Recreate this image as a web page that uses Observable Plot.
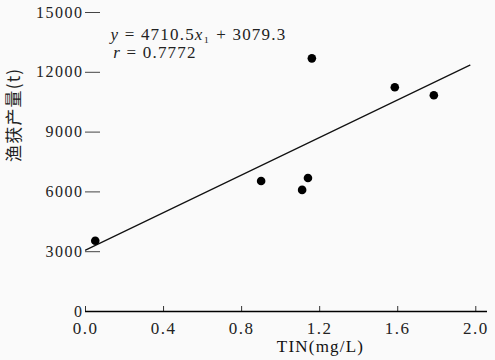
<!DOCTYPE html>
<html>
<head>
<meta charset="utf-8">
<script src="https://cdn.jsdelivr.net/npm/d3@7"></script>
<script src="https://cdn.jsdelivr.net/npm/@observablehq/plot@0.6"></script>
<style>
  html, body { margin: 0; padding: 0; background: #fafafa; }
  #chart svg { background: #fafafa; }
  g[aria-label="y-axis tick label"] text { letter-spacing: 1.5px; }
  g[aria-label="x-axis tick label"] text { letter-spacing: 1.5px; }
  g[aria-label="text"] text { letter-spacing: 1.2px; }
</style>
</head>
<body>
<div id="chart"></div>
<script>
// Data
const tinValues = [0.05, 0.90, 1.11, 1.14, 1.16, 1.585, 1.785];
const yieldValues = [3550, 6550, 6100, 6700, 12700, 11250, 10850];

// Fitted line end points (y = 4710.5x + 3079.3)
const fitX = [0, 1.97];
const fitY = [3079.3, 12359];

const xTicks = [0, 0.4, 0.8, 1.2, 1.6, 2.0];
const yTicks = [0, 3000, 6000, 9000, 12000, 15000];

const equationLines = ["y = 4710.5x\u2081 + 3079.3", "r = 0.7772"];
const equationX = [0.128, 0.142];
const equationY = [13900, 13000];

const xLabel = "TIN(mg/L)";
const yLabel = "渔获产量(t)";

const points = tinValues.map((x, i) => ({x, y: yieldValues[i]}));
const fitLine = fitX.map((x, i) => ({x, y: fitY[i]}));
const equations = equationLines.map((t, i) => ({t, x: equationX[i], y: equationY[i]}));

const serif = "'Liberation Serif', 'Times New Roman', serif";

const chart = Plot.plot({
  width: 495,
  height: 360,
  marginLeft: 85,
  marginRight: 8,
  marginTop: 12,
  marginBottom: 49,
  style: {background: "#fafafa", fontFamily: serif, color: "#222"},
  x: {domain: [0, 2.06], ticks: xTicks, tickFormat: d3.format(".1f")},
  y: {domain: [0, 15000], ticks: yTicks},
  marks: [
    Plot.axisY({ticks: yTicks, tickSize: -15, tickPadding: 17, fontSize: 16, label: null, stroke: "#444", tickFormat: d => String(d)}),
    Plot.axisX({ticks: xTicks, tickSize: 0, tickPadding: 10, fontSize: 17, label: null, tickFormat: d3.format(".1f")}),
    Plot.axisX({ticks: xTicks, tickSize: 5, dy: -5, label: null, stroke: "#333", tickFormat: () => ""}),
    Plot.ruleY([0], {stroke: "#000", strokeWidth: 1.5}),
    Plot.line(fitLine, {x: "x", y: "y", stroke: "#111", strokeWidth: 1.2}),
    Plot.dot(points, {x: "x", y: "y", r: 4.3, fill: "#000", stroke: "none"}),
    Plot.text(equations, {x: "x", y: "y", text: "t", textAnchor: "start", fontSize: 17, fill: "#222", fontFamily: serif}),
    Plot.text([xLabel], {frameAnchor: "bottom", dx: 34, dy: 40, fontSize: 17, fill: "#111", fontFamily: serif}),
    Plot.text([yLabel], {frameAnchor: "left", dx: -71, rotate: -90, fontSize: 17, fill: "#222", fontFamily: "'Noto Sans CJK SC', sans-serif"})
  ]
});
document.getElementById("chart").appendChild(chart);

// italicise the variables in the equation text
d3.select(chart).selectAll("text").each(function () {
  const el = d3.select(this);
  const s = el.text();
  if (s === equationLines[0] || s === equationLines[1]) {
    const parts = s.split(/([xyr])/).filter(p => p !== "");
    el.text(null);
    for (const p of parts) {
      const ts = el.append("tspan").text(p);
      if (/^[xyr]$/.test(p)) ts.attr("font-style", "italic");
    }
  }
});
</script>
</body>
</html>
